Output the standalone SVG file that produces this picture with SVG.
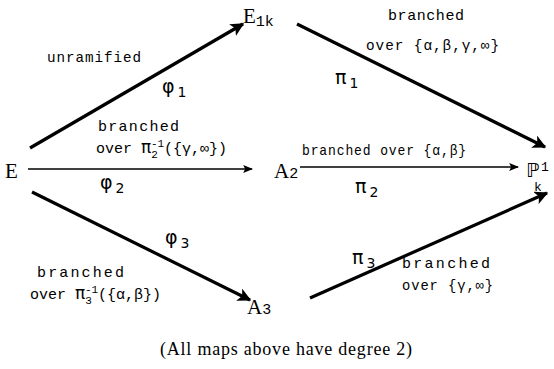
<svg xmlns="http://www.w3.org/2000/svg" width="554" height="369" viewBox="0 0 554 369">
<style>
.node{font-family:"Liberation Serif","DejaVu Serif",serif;font-size:21px;fill:#000}
.sub{font-family:"Liberation Mono","DejaVu Sans Mono",monospace;font-size:15px;fill:#000}
.lbl{font-family:"Liberation Mono","DejaVu Sans Mono",monospace;font-size:15px;letter-spacing:1px;fill:#000}
.map{font-family:"DejaVu Sans","Liberation Sans",sans-serif;font-size:19px;fill:#000}
.ms{font-size:14px}
.sm{font-size:11px}
.thick{stroke:#000;stroke-width:3.2;fill:none}
.thin{stroke:#000;stroke-width:1.4;fill:none}
.cap{font-family:"Liberation Serif","DejaVu Serif",serif;font-size:18px;fill:#000}
</style>
<defs>
<marker id="ah" viewBox="0 0 10 10" refX="9" refY="5" markerWidth="4.2" markerHeight="4.2" orient="auto" markerUnits="strokeWidth">
<path d="M0,0 L10,5 L0,10 L2.5,5 Z" fill="#000"/>
</marker>
<marker id="ahs" viewBox="0 0 10 10" refX="9" refY="5" markerWidth="7" markerHeight="7" orient="auto" markerUnits="strokeWidth">
<path d="M0,1 L10,5 L0,9 L2,5 Z" fill="#000"/>
</marker>
</defs>
<g id="connectors">
<line class="thick" x1="30" y1="148" x2="243" y2="24" marker-end="url(#ah)"/>
<line class="thin" x1="28" y1="169" x2="252" y2="169" marker-end="url(#ahs)"/>
<line class="thick" x1="32" y1="192" x2="250" y2="300" marker-end="url(#ah)"/>
<line class="thick" x1="297" y1="24" x2="545" y2="147" marker-end="url(#ah)"/>
<line class="thin" x1="300" y1="167" x2="518" y2="167" marker-end="url(#ahs)"/>
<line class="thick" x1="310" y1="298" x2="547" y2="193" marker-end="url(#ah)"/>
</g>
<g id="node-E"><text class="node" x="5" y="178">E</text></g>
<g id="node-E1k"><text class="node" x="243" y="23">E<tspan class="sub" dy="3">1k</tspan></text></g>
<g id="node-A2"><text class="node" x="274" y="178">A<tspan class="sub">2</tspan></text></g>
<g id="node-P"><text x="526" y="177" fill="#000" style="font-family:'DejaVu Sans',sans-serif;font-size:19px">ℙ</text><text class="sub" x="541" y="171" style="font-size:13px">1</text><text class="sub" x="534" y="191" style="font-size:13px">k</text></g>
<g id="node-A3"><text class="node" x="247" y="314">A<tspan class="sub">3</tspan></text></g>
<g id="labels">
<text class="lbl" x="47" y="62" textLength="95" lengthAdjust="spacingAndGlyphs">unramified</text>
<text class="map" x="162" y="93">φ<tspan class="ms" dx="3" dy="4">1</tspan></text>
<text class="lbl" x="98" y="131" textLength="82">branched</text>
<text class="lbl" x="96" y="153" style="letter-spacing:0">over <tspan class="map" style="font-size:17px">π</tspan><tspan class="sm" dy="5">2</tspan><tspan class="sm" dx="-7" dy="-11">-1</tspan><tspan dy="6">({γ,∞})</tspan></text>
<text class="map" x="100" y="189">φ<tspan class="ms" dx="3" dy="4">2</tspan></text>
<text class="lbl" x="302" y="155" textLength="165" lengthAdjust="spacingAndGlyphs">branched over {α,β}</text>
<text class="map" x="355" y="193">π<tspan class="ms" dx="3" dy="4">2</tspan></text>
<text class="lbl" x="388" y="20" textLength="77">branched</text>
<text class="lbl" x="366" y="50" textLength="134" lengthAdjust="spacingAndGlyphs">over {α,β,γ,∞}</text>
<text class="map" x="335" y="84">π<tspan class="ms" dx="3" dy="4">1</tspan></text>
<text class="map" x="165" y="244">φ<tspan class="ms" dx="3" dy="4">3</tspan></text>
<text class="lbl" x="37" y="277" textLength="88">branched</text>
<text class="lbl" x="30" y="299" style="letter-spacing:0">over <tspan class="map" style="font-size:17px">π</tspan><tspan class="sm" dy="5">3</tspan><tspan class="sm" dx="-7" dy="-11">-1</tspan><tspan dy="6">({α,β})</tspan></text>
<text class="map" x="352" y="264">π<tspan class="ms" dx="3" dy="4">3</tspan></text>
<text class="lbl" x="402" y="268" textLength="89">branched</text>
<text class="lbl" x="402" y="290" textLength="92" lengthAdjust="spacingAndGlyphs">over {γ,∞}</text>
<text class="cap" x="160" y="355" textLength="252">(All maps above have degree 2)</text>
</g>
</svg>
